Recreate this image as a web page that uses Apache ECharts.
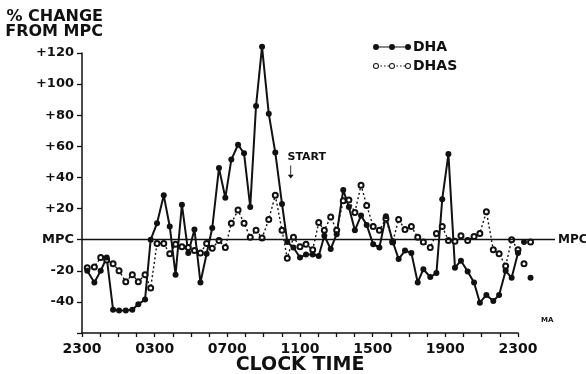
<!DOCTYPE html>
<html>
<head>
<meta charset="utf-8">
<script src="https://cdn.jsdelivr.net/npm/echarts@6/dist/echarts.min.js"></script>
<style>
  html, body { margin: 0; padding: 0; background: #fff; }
  #main { width: 586px; height: 374px; }
</style>
</head>
<body>
<div id="main"></div>
<script>
// hours after 2300, one sample roughly every 20 min
var hours = [0.29, 0.68, 1.03, 1.36, 1.71, 2.04, 2.41, 2.77, 3.10, 3.47, 3.78, 4.13,
  4.50, 4.83, 5.15, 5.50, 5.85, 6.19, 6.52, 6.86, 7.17, 7.54, 7.89, 8.22,
  8.59, 8.92, 9.26, 9.58, 9.91, 10.28, 10.64, 11.01, 11.30, 11.64, 12.00, 12.33,
  12.70, 13.03, 13.34, 13.69, 14.02, 14.38, 14.69, 15.02, 15.36, 15.67, 16.03, 16.37,
  16.73, 17.10, 17.43, 17.78, 18.13, 18.48, 18.79, 19.17, 19.51, 19.83, 20.17, 20.53,
  20.86, 21.23, 21.58, 21.90, 22.26, 22.64, 22.96, 23.32, 23.65, 24.00, 24.33, 24.69];

var dha = [-20, -27.5, -20, -11.5, -45, -45.5, -45.5, -45, -41.5, -38.5, 0, 10.5,
  28.5, 8.5, -22.5, 22.5, -8.5, 6.5, -27.5, -9, 7.5, 46, 27, 51.5,
  61, 55.5, 21, 86, 124, 81, 56, 23, -1.5, -5, -11.5, -9.5,
  -9.5, -10.5, 2.5, -6, 3.5, 32, 21, 6, 15.5, 9.5, -3, -5,
  15, -1, -12.5, -7, -8.5, -27.5, -19, -24, -21.5, 26, 55, -18,
  -13.5, -20.5, -27.5, -40.5, -35.5, -39.5, -35.5, -20, -24.5, -8.5, -1.5, -24.5];

var dhas = [-18, -17.5, -11.5, -13, -15.5, -20, -27, -22.5, -27, -22.5, -31, -2.5,
  -2.5, -9, -3, -4.5, -5, -7, -8.5, -2.5, -5.5, -0.5, -5, 10.5,
  19, 10.5, 1.5, 6, 1, 13, 28.5, 6, -12, 1.5, -4.5, -3,
  -6.5, 11, 6, 14.5, 6, 25, 25.5, 17.5, 35, 22, 8.5, 6,
  13.5, -1.5, 13, 6.5, 8.5, 1.5, -1.5, -5, 4, 8.5, -0.5, -1,
  2.5, -0.5, 2, 4, 18, -6.5, -9, -17, 0, -6.5, -15.5, -1.5];

var clockLabels = ['2300', '0300', '0700', '1100', '1500', '1900', '2300'];

var startTime = 11.49;     // arrow marking START (hours after 2300)
var startArrowLevel = 43.5;

var ink = '#111';
var chart = echarts.init(document.getElementById('main'));

function circlePath(cx, cy, r, sweep) {
  return 'M' + (cx - r) + ',' + cy +
    ' a' + r + ',' + r + ' 0 1,' + sweep + ' ' + (2 * r) + ',0' +
    ' a' + r + ',' + r + ' 0 1,' + sweep + ' ' + (-2 * r) + ',0 Z ';
}
// legend icons: line with three dots
var dhaIcon = 'path://' + 'M3,2.4 L35,2.4 L35,3.6 L3,3.6 Z ' +
  circlePath(3, 3, 3, 1) + circlePath(19, 3, 3, 1) + circlePath(35, 3, 3, 1);
var dhasIcon = 'path://';
[3, 19, 35].forEach(function (cx) {
  dhasIcon += circlePath(cx, 3, 3, 1) + circlePath(cx, 3, 2, 0);
});
[7.5, 11, 14.5, 23.5, 27, 30.5].forEach(function (x) {
  dhasIcon += 'M' + x + ',2.5 L' + (x + 1.5) + ',2.5 L' + (x + 1.5) + ',3.5 L' + x + ',3.5 Z ';
});

var option = {
  backgroundColor: '#fff',
  animation: false,
  title: {
    text: '% CHANGE\nFROM MPC',
    left: 103,
    top: 9,
    padding: 0,
    textAlign: 'right',
    textStyle: { fontFamily: 'DejaVu Sans', fontWeight: 'bold', fontSize: 16, lineHeight: 15, color: ink }
  },
  legend: {
    orient: 'vertical',
    left: 373,
    top: 39,
    itemGap: 3,
    itemWidth: 38,
    itemHeight: 6,
    padding: 0,
    selectedMode: false,
    itemStyle: { color: ink, borderWidth: 0 },
    textStyle: { fontFamily: 'DejaVu Sans', fontWeight: 'bold', fontSize: 14, lineHeight: 16, color: ink, padding: [0, 0, 0, -3] },
    data: [
      { name: 'DHA', icon: dhaIcon },
      { name: 'DHAS', icon: dhasIcon }
    ]
  },
  grid: [
    { left: 82, right: 68, top: 53, bottom: 41, outerBoundsMode: 'none', containLabel: false },
    { left: 82, right: 31, top: 53, bottom: 41, outerBoundsMode: 'none', containLabel: false }
  ],
  xAxis: [
    {
      type: 'value',
      gridIndex: 0,
      min: 0,
      max: 24,
      interval: 1,
      name: 'CLOCK TIME',
      nameLocation: 'middle',
      nameGap: 23,
      nameMoveOverlap: false,
      nameTextStyle: { fontFamily: 'DejaVu Sans', fontWeight: 'bold', fontSize: 19, color: ink },
      axisLine: { onZero: false, lineStyle: { color: ink, width: 1.5 } },
      axisTick: { length: 4, lineStyle: { color: ink, width: 1.3 } },
      splitLine: { show: false },
      axisLabel: {
        margin: 9,
        fontFamily: 'DejaVu Sans',
        fontWeight: 'bold',
        fontSize: 14,
        color: ink,
        formatter: function (v) { return v % 4 === 0 ? clockLabels[v / 4] : ''; }
      }
    },
    { type: 'value', gridIndex: 1, min: 0, max: 1, show: false }
  ],
  yAxis: [
    {
      type: 'value',
      gridIndex: 0,
      min: -60,
      max: 120,
      interval: 20,
      axisLine: { show: true, onZero: false, lineStyle: { color: ink, width: 1.5 } },
      axisTick: { show: true, length: 5, lineStyle: { color: ink, width: 1.3 } },
      splitLine: { show: false },
      axisLabel: {
        margin: 8,
        fontFamily: 'DejaVu Sans',
        fontWeight: 'bold',
        fontSize: 13,
        color: ink,
        formatter: function (v) {
          if (v === 0) return 'MPC';
          if (v < -40) return '';
          return v > 0 ? '+' + v : '-' + Math.abs(v);
        }
      }
    },
    { type: 'value', gridIndex: 1, min: -60, max: 120, show: false }
  ],
  series: [
    {
      name: 'MPC',
      type: 'line',
      xAxisIndex: 1,
      yAxisIndex: 1,
      data: [],
      markLine: {
        silent: true,
        symbol: 'none',
        animation: false,
        lineStyle: { color: ink, width: 1.3, type: 'solid' },
        label: {
          position: 'end',
          distance: 3,
          formatter: 'MPC',
          fontFamily: 'DejaVu Sans',
          fontWeight: 'bold',
          fontSize: 12,
          color: ink
        },
        data: [{ yAxis: 0 }]
      }
    },
    {
      name: 'DHAS',
      type: 'line',
      clip: false,
      data: hours.map(function (h, i) { return [h, dhas[i]]; }),
      symbol: 'emptyCircle',
      symbolSize: 5,
      lineStyle: { color: ink, width: 1.4, type: [2, 2.5] },
      itemStyle: { color: ink, borderColor: ink, borderWidth: 1.2 }
    },
    {
      name: 'DHA',
      type: 'line',
      clip: false,
      data: hours.map(function (h, i) { return [h, dha[i]]; }),
      symbol: 'circle',
      symbolSize: 6,
      lineStyle: { color: ink, width: 2 },
      itemStyle: { color: ink },
      markPoint: {
        silent: true,
        symbol: 'path://M3,0 L4,0 L4,10 L7,10 L3.5,14 L0,10 L3,10 Z',
        symbolSize: [6, 13],
        itemStyle: { color: ink },
        label: {
          show: true,
          position: 'top',
          distance: 3,
          offset: [16, 0],
          formatter: 'START',
          fontFamily: 'DejaVu Sans',
          fontWeight: 'bold',
          fontSize: 11,
          color: ink
        },
        data: [{ coord: [startTime, startArrowLevel] }]
      }
    }
  ],
  graphic: [
    {
      type: 'text',
      left: 541,
      top: 317,
      style: { text: 'MA', fontFamily: 'DejaVu Sans', fontWeight: 'bold', fontSize: 7, fill: ink }
    }
  ]
};

chart.setOption(option);
</script>
</body>
</html>
